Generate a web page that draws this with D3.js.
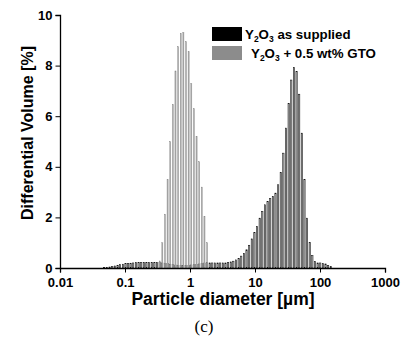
<!DOCTYPE html>
<html>
  <head>
    <meta charset="utf-8">
    <title>Particle size distribution</title>
    <script src="https://d3js.org/d3.v7.min.js"></script>
    <style>
      body { margin: 0; background: #fff; }
      text { font-family: "Liberation Sans", Arial, sans-serif; font-weight: bold; fill: #000; }
    </style>
  </head>
  <body>
    <svg id="chart" width="407" height="338"></svg>
    <script>
      // channel diameters (µm) of the laser diffraction analyser
      const channels = [0.048, 0.053, 0.058, 0.064, 0.070, 0.077, 0.084, 0.093, 0.102, 0.112,
        0.122, 0.134, 0.148, 0.162, 0.178, 0.195, 0.214, 0.235, 0.258, 0.284,
        0.311, 0.342, 0.375, 0.412, 0.452, 0.496, 0.545, 0.598, 0.656, 0.721,
        0.791, 0.868, 0.953, 1.047, 1.149, 1.261, 1.385, 1.520, 1.669, 1.832,
        2.011, 2.208, 2.423, 2.660, 2.920, 3.206, 3.519, 3.863, 4.241, 4.656,
        5.111, 5.611, 6.159, 6.761, 7.422, 8.148, 8.944, 9.819, 10.78, 11.83,
        12.99, 14.26, 15.65, 17.18, 18.86, 20.71, 22.73, 24.95, 27.39, 30.07,
        33.01, 36.24, 39.78, 43.67, 47.94, 52.62, 57.77, 63.41, 69.61, 76.42,
        83.89, 92.09, 101.1, 111.0, 121.8, 133.7, 146.8];
      // Y2O3 as supplied, differential volume [%]
      const asSupplied = [0.02, 0.03, 0.04, 0.06, 0.08, 0.11, 0.13, 0.15, 0.17, 0.18,
        0.19, 0.20, 0.21, 0.21, 0.22, 0.22, 0.22, 0.22, 0.22, 0.22,
        0.22, 0.21, 0.20, 0.19, 0.17, 0.15, 0.13, 0.12, 0.11, 0.10,
        0.10, 0.10, 0.11, 0.12, 0.13, 0.14, 0.16, 0.18, 0.20, 0.21,
        0.20, 0.20, 0.20, 0.20, 0.20, 0.20, 0.20, 0.21, 0.24, 0.27,
        0.32, 0.38, 0.47, 0.58, 0.72, 0.90, 1.15, 1.40, 1.64, 1.97,
        2.24, 2.50, 2.63, 2.74, 2.83, 2.96, 3.29, 3.78, 4.54, 5.53,
        6.51, 7.43, 7.92, 7.76, 6.87, 5.33, 3.49, 1.97, 1.01, 0.49,
        0.26, 0.20, 0.20, 0.17, 0.16, 0.10, 0.05];
      // Y2O3 + 0.5 wt% GTO
      const gtoChannels = [0.342, 0.375, 0.412, 0.452, 0.496, 0.545, 0.598, 0.656, 0.721, 0.791,
        0.868, 0.953, 1.047, 1.149, 1.261, 1.385, 1.520, 1.669, 1.832];
      const withGTO = [0.28, 1.00, 2.13, 3.49, 5.00, 6.47, 7.79, 8.75, 9.28, 9.32,
        8.95, 8.55, 7.30, 6.30, 5.20, 4.20, 3.20, 2.04, 1.00];
      const xTicks = [0.01, 0.1, 1, 10, 100, 1000];
      const xTickLabels = ["0.01", "0.1", "1", "10", "100", "1000"];
      const yTicks = [0, 2, 4, 6, 8, 10];

      const svg = d3.select("#chart");
      const x = d3.scaleLog().domain([0.01, 1000]).range([60, 385]);
      const y = d3.scaleLinear().domain([0, 10]).range([268, 15]);

      // bars: black series first, grey series on top
      const black = channels.map((d, i) => ({ d: d, v: asSupplied[i] }));
      const grey = gtoChannels.map((d, i) => ({ d: d, v: withGTO[i] }));
      svg.append("g")
        .selectAll("rect")
        .data(black)
        .enter().append("rect")
          .attr("x", d => x(d.d) - 0.7)
          .attr("y", d => y(d.v))
          .attr("width", 1.3)
          .attr("height", d => y(0) - y(d.v))
          .attr("fill", "#b0b0b0")
          .attr("stroke", "#000")
          .attr("stroke-width", 0.5);
      svg.append("g")
        .selectAll("rect")
        .data(grey)
        .enter().append("rect")
          .attr("x", d => x(d.d) - 0.6)
          .attr("y", d => y(d.v))
          .attr("width", 1.2)
          .attr("height", d => y(0) - y(d.v))
          .attr("fill", "#a4a4a4")
          .attr("stroke", "#8c8c8c")
          .attr("stroke-width", 0.3);

      // axes
      const minorX = [];
      [0.01, 0.1, 1, 10, 100].forEach(dec => {
        for (let k = 2; k <= 9; k++) minorX.push(dec * k);
      });
      const xAxis = svg.append("g").attr("transform", "translate(0,268)");
      xAxis.call(d3.axisBottom(x).tickValues(minorX).tickSize(2.5).tickFormat(""));
      xAxis.call(d3.axisBottom(x).tickValues(xTicks).tickSize(4.5).tickFormat((d, i) => xTickLabels[i]));
      xAxis.selectAll(".domain").attr("stroke-width", 1.3);
      xAxis.selectAll("text").style("font-size", "13px").attr("dy", "0.85em");

      const yAxis = svg.append("g").attr("transform", "translate(60,0)");
      yAxis.call(d3.axisLeft(y).tickValues([1, 3, 5, 7, 9]).tickSize(2.5).tickFormat(""));
      yAxis.call(d3.axisLeft(y).tickValues(yTicks).tickSize(4.5));
      yAxis.selectAll(".domain").attr("stroke-width", 1.3);
      yAxis.selectAll("text").style("font-size", "13px");

      // axis titles
      svg.append("text")
        .attr("transform", "translate(33,133) rotate(-90)")
        .attr("text-anchor", "middle")
        .style("font-size", "16px")
        .text("Differential Volume [%]");
      svg.append("text")
        .attr("x", 223)
        .attr("y", 305)
        .attr("text-anchor", "middle")
        .style("font-size", "17.5px")
        .text("Particle diameter [µm]");
      svg.append("text")
        .attr("x", 204)
        .attr("y", 332)
        .attr("text-anchor", "middle")
        .style("font-family", "'Liberation Serif', 'DejaVu Serif', serif")
        .style("font-weight", "normal")
        .style("font-size", "17px")
        .text("(c)");

      // legend
      const legend = [
        { fill: "#000", y: 27, x: 245, after: " as supplied" },
        { fill: "#8c8c8c", y: 46, x: 251, after: " + 0.5 wt% GTO" }
      ];
      legend.forEach(l => {
        svg.append("rect")
          .attr("x", 212).attr("y", l.y)
          .attr("width", 30).attr("height", 14)
          .attr("fill", l.fill);
        const t = svg.append("text")
          .attr("x", l.x).attr("y", l.y + 11.5)
          .style("font-size", "13.3px");
        t.append("tspan").text("Y");
        t.append("tspan").attr("dy", 3).style("font-size", "8.5px").text("2");
        t.append("tspan").attr("dy", -3).text("O");
        t.append("tspan").attr("dy", 3).style("font-size", "8.5px").text("3");
        t.append("tspan").attr("dy", -3).text(l.after);
      });
    </script>
  </body>
</html>
